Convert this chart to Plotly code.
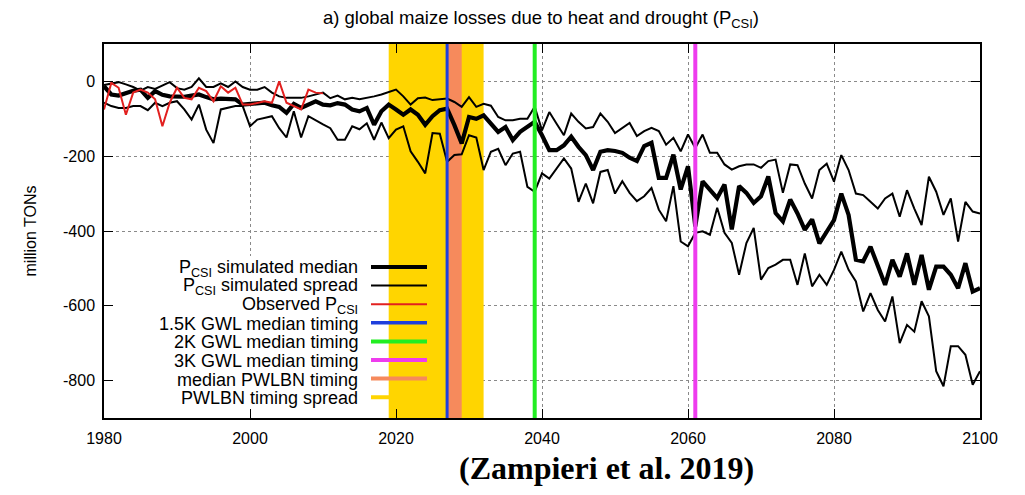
import plotly.graph_objects as go

# Simulated maize losses from heat and drought (million tons), 1980-2100
years = list(range(1980, 2101))

median = [
    -13, -35, -38, -30, -25, -22, -44, -26, -36, -40,
    -41, -41, -38, -35, -42, -48, -46, -48, -48, -62,
    -60, -58, -57, -64, -68, -84, -60, -71, -62, -53,
    -62, -64, -58, -62, -75, -80, -71, -116, -80, -62,
    -75, -89, -75, -89, -116, -93, -77, -73, -117, -166,
    -95, -100, -91, -113, -135, -122, -157, -135, -122, -108,
    -144, -184, -184, -171, -148, -175, -197, -237, -188, -184,
    -186, -191, -204, -213, -173, -164, -258, -258, -196, -289,
    -227, -388, -267, -289, -312, -276, -396, -280, -298, -325,
    -307, -254, -352, -374, -316, -353, -397, -369, -433, -402,
    -371, -300, -357, -477, -481, -442, -495, -544, -477, -522,
    -460, -544, -464, -557, -495, -495, -517, -553, -486, -562,
    -553,
]

spread_upper = [
    -10, -5, -2, -8, -15, -25, -15, -20, -12, -2,
    -18, -22, -15, 8, -15, -15, -5, -15, 0, -15,
    -22, -22, -15, -30, -40, -44, -44, -44, -40, -35,
    -30, -45, -38, -48, -44, -48, -45, -40, -35, -28,
    -22, -40, -62, -45, -43, -50, -48, -46, -55, -68,
    -42, -68, -60, -65, -95, -104, -104, -100, -100, -68,
    -131, -82, -113, -144, -86, -108, -126, -122, -86, -108,
    -138, -124, -111, -146, -133, -124, -133, -169, -151, -187,
    -142, -178, -142, -191, -191, -222, -236, -227, -222, -222,
    -231, -213, -209, -298, -222, -224, -273, -313, -237, -220,
    -268, -197, -237, -300, -304, -322, -340, -313, -300, -362,
    -291, -340, -384, -255, -295, -357, -313, -428, -322, -348,
    -353,
]

spread_lower = [
    -57, -66, -71, -71, -66, -66, -77, -57, -66, -57,
    -53, -75, -102, -62, -129, -165, -75, -71, -66, -66,
    -120, -102, -98, -93, -125, -150, -80, -150, -93, -105,
    -115, -125, -156, -156, -120, -128, -112, -156, -110, -152,
    -129, -120, -187, -215, -246, -138, -140, -215, -197, -195,
    -144, -150, -237, -188, -180, -224, -193, -188, -282, -295,
    -246, -260, -233, -206, -233, -322, -273, -326, -242, -237,
    -300, -267, -298, -320, -307, -285, -343, -374, -280, -428,
    -441, -405, -401, -410, -338, -405, -432, -517, -432, -392,
    -530, -499, -490, -477, -477, -544, -460, -548, -517, -544,
    -504, -455, -504, -535, -615, -566, -611, -642, -575, -700,
    -651, -669, -588, -628, -775, -815, -708, -708, -731, -811,
    -775,
]

# Observed losses, 1980-2010
obs_years = list(range(1980, 2011))
observed = [
    -75, -4, -17, -89, -30, -22, -30, -48, -120, -57,
    -17, -44, -48, -17, -26, -53, -13, -30, -17, -62,
    -62, -57, -53, -57, 0, -57, -66, -75, -22, -30,
    -32,
]

# Timing of warming levels and of the PWLBN window (years)
gwl_timing = {"1.5K": 2027, "2K": 2039, "3K": 2061}
pwlbn_median = (2027, 2029)
pwlbn_spread = (2019, 2032)

x_range = [1980, 2100]
y_range = [-900, 100]
x_ticks = [1980, 2000, 2020, 2040, 2060, 2080, 2100]
y_ticks = [0, -200, -400, -600, -800]

FONT = "Liberation Sans, Arial, Helvetica, sans-serif"
C_BLUE = "#1f3fdc"
C_GREEN = "#22ee22"
C_MAGENTA = "#ee3cee"
C_ORANGE = "#f68a5c"
C_YELLOW = "#ffd500"
C_RED = "#e2201f"

W, H = 1025, 495
L, R, T, B = 104, 45, 44, 77


def px(xp):
    return (xp - L) / (W - L - R)


def py(yp):
    return (H - B - yp) / (H - T - B)


def x_of(xp):
    return x_range[0] + px(xp) * (x_range[1] - x_range[0])


def y_of(yp):
    return y_range[0] + py(yp) * (y_range[1] - y_range[0])


def band(x0, x1, y0, y1, color):
    return go.Scatter(x=[x0, x1, x1, x0, x0], y=[y0, y0, y1, y1, y0],
                      mode="lines", fill="toself", fillcolor=color,
                      line=dict(width=0, color=color), hoverinfo="skip")


fig = go.Figure()

# white panel under the key (hides the grid there)
fig.add_trace(band(x_of(106), x_of(445), y_of(410), y_of(256), "white"))

# PWLBN timing spread and median window
fig.add_trace(band(pwlbn_spread[0], pwlbn_spread[1], y_range[0], y_range[1], C_YELLOW))
fig.add_trace(band(pwlbn_median[0], pwlbn_median[1], y_range[0], y_range[1], C_ORANGE))

fig.add_trace(go.Scatter(x=years, y=spread_upper, mode="lines",
                         line=dict(color="black", width=2)))
fig.add_trace(go.Scatter(x=years, y=spread_lower, mode="lines",
                         line=dict(color="black", width=2)))
fig.add_trace(go.Scatter(x=years, y=median, mode="lines",
                         line=dict(color="black", width=4.2)))
fig.add_trace(go.Scatter(x=obs_years, y=observed, mode="lines",
                         line=dict(color=C_RED, width=2)))

# warming-level timings
for key_name, color, width in (("1.5K", C_BLUE, 3), ("2K", C_GREEN, 4),
                               ("3K", C_MAGENTA, 4)):
    fig.add_trace(go.Scatter(x=[gwl_timing[key_name]] * 2, y=y_range,
                             mode="lines", line=dict(color=color, width=width),
                             hoverinfo="skip"))

# key: right-aligned labels with line samples
key = [
    ("P<sub>CSI</sub> simulated median", "black", 4.2),
    ("P<sub>CSI</sub> simulated spread", "black", 2),
    ("Observed P<sub>CSI</sub>", C_RED, 2),
    ("1.5K GWL median timing", C_BLUE, 3.5),
    ("2K GWL median timing", C_GREEN, 4),
    ("3K GWL median timing", C_MAGENTA, 4),
    ("median PWLBN timing", C_ORANGE, 4),
    ("PWLBN timing spread", C_YELLOW, 4),
]
row0, step = 267, 18.6
for i, (label, color, width) in enumerate(key):
    yy = row0 + i * step
    fig.add_annotation(x=px(360), y=py(yy + 1), xref="paper", yref="paper",
                       text=label, showarrow=False, xanchor="right",
                       yanchor="middle", font=dict(size=18, color="black",
                                                   family=FONT))
    fig.add_shape(type="line", xref="paper", yref="paper",
                  x0=px(371), x1=px(427), y0=py(yy), y1=py(yy),
                  line=dict(color=color, width=width))

fig.add_annotation(x=px(606), y=py(468), xref="paper", yref="paper",
                   text="<b>(Zampieri et al. 2019)</b>", showarrow=False,
                   xanchor="center", yanchor="middle",
                   font=dict(size=32, color="black",
                             family="Liberation Serif, Times New Roman, serif"))

axis_common = dict(showline=True, linecolor="black", linewidth=1.5,
                   mirror="ticks", ticks="inside", ticklen=9, tickwidth=1,
                   tickcolor="black", showgrid=True, gridcolor="#8a8a8a",
                   griddash="dot", gridwidth=1, zeroline=False,
                   tickfont=dict(size=16, color="black", family=FONT))

fig.update_xaxes(range=x_range, tickvals=x_ticks,
                 ticktext=[str(v) for v in x_ticks], ticklabelstandoff=5,
                 **axis_common)
fig.update_yaxes(range=y_range, tickvals=y_ticks,
                 ticktext=[str(v) for v in y_ticks], ticklabelstandoff=4,
                 title=dict(text="million TONs", standoff=22,
                            font=dict(size=16, color="black", family=FONT)),
                 **axis_common)

fig.update_layout(
    width=W, height=H,
    margin=dict(l=L, r=R, t=T, b=B),
    paper_bgcolor="white", plot_bgcolor="white",
    showlegend=False,
    title=dict(text="a) global maize losses due to heat and drought (P<sub>CSI</sub>)",
               x=541 / W, xanchor="center", y=1 - 18 / H, yanchor="middle",
               yref="container", font=dict(size=18.5, color="black", family=FONT)),
)

fig.write_html("out.html")
